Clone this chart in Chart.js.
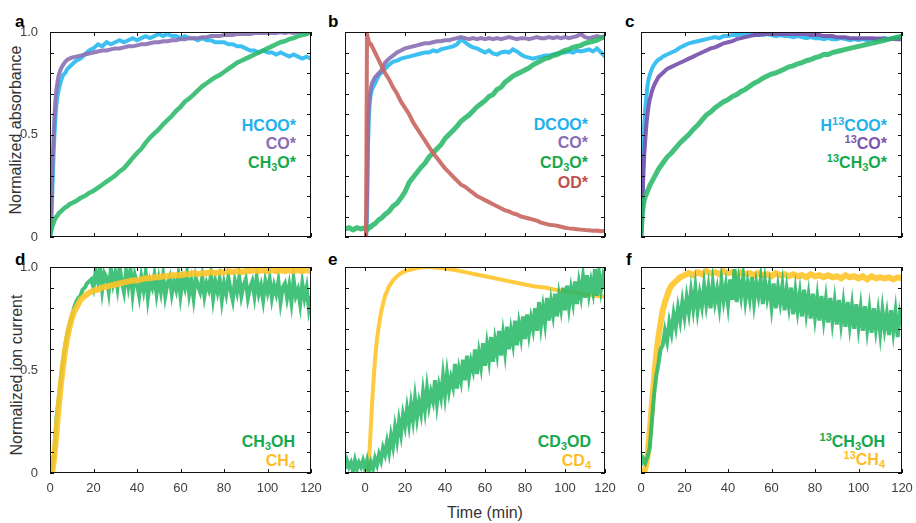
<!DOCTYPE html>
<html>
<head>
<meta charset="utf-8">
<script src="https://cdn.jsdelivr.net/npm/chart.js@4.4.1/dist/chart.umd.min.js"></script>
<style>
  body { margin: 0; background: #fff; }
  #fig { position: relative; width: 916px; height: 523px; overflow: hidden; font-family: 'Liberation Sans', Arial, sans-serif; }
  .lab { position: absolute; font-weight: bold; font-size: 16px; line-height: 16px; white-space: nowrap; text-align: right; }
  .lab .sb { font-size: 11px; line-height: 0; vertical-align: -3px; }
  .lab .sp { font-size: 11px; line-height: 0; vertical-align: 6px; }
  .let { position: absolute; font-weight: bold; font-size: 17px; line-height: 17px; color: #000; }
  .ttl { position: absolute; font-size: 16px; line-height: 16px; color: #333; text-align: center; white-space: nowrap; }
</style>
</head>
<body>
<div id="fig">
  <div class="let" style="left:15px;top:13px">a</div>
  <div class="let" style="left:328px;top:13px">b</div>
  <div class="let" style="left:625px;top:13px">c</div>
  <div class="let" style="left:15px;top:251px">d</div>
  <div class="let" style="left:328px;top:251px">e</div>
  <div class="let" style="left:626px;top:251px">f</div>

  <div class="ttl" style="left:-94px;top:122px;width:220px;transform:rotate(-90deg)">Normalized absorbance</div>
  <div class="ttl" style="left:-93px;top:367px;width:220px;transform:rotate(-90deg)">Normalized ion current</div>
  <div class="ttl" style="left:385px;top:505px;width:200px">Time (min)</div>

  <!-- a -->
  <div class="lab" style="right:620px;top:118px;color:#1fb1ec">HCOO*</div>
  <div class="lab" style="right:620px;top:136px;color:#8a6db1">CO*</div>
  <div class="lab" style="right:620px;top:155px;color:#16a84c">CH<span class="sb">3</span>O*</div>
  <!-- b -->
  <div class="lab" style="right:328px;top:117px;color:#1fb1ec">DCOO*</div>
  <div class="lab" style="right:328px;top:135px;color:#8a6db1">CO*</div>
  <div class="lab" style="right:328px;top:155px;color:#16a84c">CD<span class="sb">3</span>O*</div>
  <div class="lab" style="right:328px;top:175px;color:#c0504d">OD*</div>
  <!-- c -->
  <div class="lab" style="right:29px;top:118px;color:#1fb1ec">H<span class="sp">13</span>COO*</div>
  <div class="lab" style="right:29px;top:136px;color:#7c56ad"><span class="sp">13</span>CO*</div>
  <div class="lab" style="right:29px;top:155px;color:#16a84c"><span class="sp">13</span>CH<span class="sb">3</span>O*</div>
  <!-- d -->
  <div class="lab" style="right:621px;top:434px;color:#16a84c">CH<span class="sb">3</span>OH</div>
  <div class="lab" style="right:621px;top:453px;color:#fdbe2a">CH<span class="sb">4</span></div>
  <!-- e -->
  <div class="lab" style="right:325px;top:434px;color:#16a84c">CD<span class="sb">3</span>OD</div>
  <div class="lab" style="right:325px;top:453px;color:#fdbe2a">CD<span class="sb">4</span></div>
  <!-- f -->
  <div class="lab" style="right:31px;top:434px;color:#16a84c"><span class="sp">13</span>CH<span class="sb">3</span>OH</div>
  <div class="lab" style="right:31px;top:452px;color:#fdbe2a"><span class="sp">13</span>CH<span class="sb">4</span></div>
</div>

<script>
// time grids (min)
function grid(a, b, s) {
  const r = [];
  for (let t = a; t <= b + 1e-9; t += s) r.push(t);
  return r;
}
const tTop = [0,0.5,1,1.5,2,2.5,3,3.5,4,5,6,7,8,9,10].concat(grid(12, 120, 2));
const tB = [-10,-8,-6,-4,-2,0,0.5,1,1.5,2,2.5,3,3.5,4,5,6,7,8,9,10].concat(grid(12, 120, 2));
const tD = grid(0, 16, 1).concat(grid(18, 120, 2));
const tE = [-10,-8,-6,-4,-2,0,1,1.5,2,2.5,3,3.5,4,4.5,5,5.5,6,7,8,9,10].concat(grid(12, 32, 2), grid(35, 120, 5));
const tF = grid(0, 20, 1).concat(grid(22, 120, 2));
const tMin = grid(0, 120, 1);
const tMinE = grid(-10, 120, 1);

// axis ticks
const xTickMarks = [0, 20, 40, 60, 80, 100, 120];
const yTickMarks = [0, 0.1, 0.2, 0.3, 0.4, 0.5, 0.6, 0.7, 0.8, 0.9, 1];

// a: absorbance, H2 + CO2
const aHCOO = [0,0.05,0.2,0.36,0.49,0.58,0.65,0.69,0.72,0.76,0.79,0.80,0.82,0.83,0.84,
  0.86,0.87,0.89,0.91,0.92,0.94,0.93,0.95,0.94,0.95,0.96,0.95,0.96,0.97,0.96,0.97,0.98,0.97,0.98,0.99,
  0.98,0.99,0.98,0.98,0.97,0.98,0.97,0.97,0.96,0.97,0.96,0.96,0.95,0.95,0.95,0.94,0.94,0.93,0.93,0.92,
  0.91,0.91,0.90,0.91,0.90,0.90,0.89,0.90,0.89,0.88,0.89,0.88,0.87,0.88,0.87];
const aCO = [0,0.1,0.3,0.45,0.58,0.67,0.72,0.76,0.79,0.82,0.84,0.855,0.865,0.87,0.875,
  0.88,0.885,0.89,0.895,0.9,0.905,0.91,0.91,0.915,0.92,0.92,0.925,0.93,0.93,0.935,0.94,0.94,0.945,0.95,0.95,
  0.955,0.955,0.96,0.96,0.965,0.965,0.97,0.97,0.97,0.975,0.975,0.98,0.98,0.98,0.985,0.985,0.985,0.99,0.99,0.99,
  0.99,0.995,0.995,0.995,0.995,0.995,0.995,1,0.995,1,0.995,1,1,0.995,1];
const aCH3O = [0,0.03,0.05,0.065,0.08,0.09,0.1,0.105,0.115,0.125,0.135,0.145,0.15,0.16,0.165,
  0.175,0.19,0.2,0.215,0.225,0.24,0.255,0.27,0.285,0.3,0.32,0.335,0.36,0.385,0.41,0.43,0.46,0.485,0.505,0.525,
  0.55,0.57,0.59,0.615,0.635,0.66,0.675,0.695,0.715,0.735,0.75,0.765,0.78,0.79,0.805,0.82,0.835,0.85,0.86,0.87,
  0.88,0.89,0.9,0.91,0.92,0.93,0.94,0.95,0.955,0.965,0.97,0.98,0.985,0.99,1.0];

// b: absorbance, deuterated
const bDCOO = [-0.01,-0.015,-0.01,-0.02,-0.01,-0.01,-0.01,0.1,0.45,0.6,0.67,0.7,0.72,0.73,0.75,0.77,0.79,0.8,0.81,0.82,
  0.84,0.855,0.86,0.87,0.875,0.88,0.885,0.89,0.895,0.9,0.9,0.91,0.905,0.915,0.92,0.925,0.93,0.94,0.965,0.95,
  0.935,0.925,0.92,0.91,0.9,0.91,0.895,0.89,0.9,0.905,0.9,0.915,0.905,0.89,0.88,0.875,0.87,0.875,0.88,0.885,
  0.885,0.89,0.895,0.9,0.9,0.905,0.9,0.91,0.905,0.91,0.915,0.905,0.92,0.9,0.88];
const bCO = [-0.01,-0.01,-0.01,-0.01,-0.01,-0.01,-0.01,0.2,0.55,0.65,0.7,0.73,0.75,0.76,0.78,0.79,0.8,0.81,0.83,0.85,
  0.87,0.885,0.9,0.91,0.92,0.925,0.93,0.935,0.94,0.945,0.945,0.95,0.955,0.955,0.96,0.96,0.965,0.97,0.975,0.97,
  0.965,0.97,0.965,0.97,0.965,0.97,0.965,0.97,0.965,0.97,0.975,0.97,0.965,0.97,0.97,0.965,0.97,0.975,0.97,0.97,
  0.975,0.97,0.975,0.97,0.975,0.97,0.975,0.98,0.99,0.975,0.97,0.975,0.98,0.975,0.98];
const bCD3O = [0.04,0.045,0.035,0.045,0.04,0.045,0.04,0.045,0.04,0.045,0.05,0.05,0.055,0.06,0.065,0.075,0.085,0.09,0.1,0.11,
  0.125,0.15,0.165,0.19,0.22,0.265,0.29,0.315,0.34,0.36,0.39,0.41,0.43,0.45,0.48,0.5,0.52,0.54,0.565,0.58,
  0.595,0.615,0.635,0.65,0.665,0.685,0.695,0.72,0.73,0.755,0.77,0.785,0.795,0.805,0.815,0.825,0.84,0.85,0.86,0.87,
  0.875,0.885,0.89,0.9,0.91,0.915,0.925,0.93,0.935,0.945,0.95,0.955,0.96,0.97,0.975];
const bOD = [-0.01,-0.01,-0.01,-0.01,-0.01,-0.01,-0.01,0.99,0.97,0.95,0.94,0.94,0.93,0.92,0.9,0.88,0.86,0.84,0.82,0.8,
  0.77,0.73,0.7,0.66,0.63,0.6,0.56,0.53,0.5,0.47,0.44,0.41,0.385,0.36,0.335,0.315,0.295,0.275,0.255,0.245,
  0.23,0.215,0.2,0.19,0.18,0.17,0.16,0.15,0.14,0.13,0.125,0.115,0.11,0.1,0.095,0.09,0.085,0.08,0.07,0.065,
  0.06,0.058,0.055,0.05,0.045,0.042,0.04,0.038,0.036,0.034,0.033,0.03,0.032,0.028,0.03];

// c: absorbance, 13C
const cHCOO = [0,0.12,0.38,0.55,0.63,0.69,0.74,0.77,0.79,0.82,0.84,0.855,0.865,0.87,0.88,
  0.89,0.9,0.91,0.925,0.935,0.945,0.95,0.955,0.96,0.965,0.97,0.975,0.97,0.98,0.98,0.985,0.985,0.99,0.985,0.99,
  0.985,0.99,0.985,0.99,0.985,0.98,0.985,0.98,0.98,0.975,0.98,0.975,0.97,0.975,0.97,0.97,0.965,0.97,0.965,0.965,
  0.97,0.965,0.96,0.965,0.96,0.965,0.96,0.965,0.96,0.965,0.97,0.965,0.97,0.975,0.975];
const cCO = [0,0.1,0.28,0.4,0.48,0.55,0.6,0.64,0.67,0.71,0.74,0.76,0.78,0.79,0.8,
  0.82,0.83,0.84,0.85,0.86,0.87,0.88,0.89,0.9,0.91,0.92,0.925,0.935,0.945,0.95,0.955,0.965,0.97,0.975,0.98,
  0.985,0.985,0.99,0.99,0.99,0.99,0.99,0.99,0.99,0.99,0.99,0.99,0.99,0.985,0.985,0.985,0.98,0.98,0.98,0.975,
  0.975,0.975,0.97,0.97,0.97,0.97,0.97,0.97,0.968,0.968,0.967,0.966,0.966,0.965,0.965];
const cCH3O = [0,0.1,0.15,0.18,0.2,0.21,0.225,0.235,0.25,0.27,0.29,0.31,0.33,0.345,0.36,
  0.39,0.41,0.435,0.46,0.48,0.5,0.525,0.545,0.57,0.595,0.61,0.63,0.645,0.66,0.67,0.685,0.695,0.71,0.72,0.735,
  0.75,0.76,0.775,0.785,0.795,0.8,0.81,0.82,0.83,0.835,0.845,0.85,0.86,0.865,0.875,0.88,0.89,0.89,0.9,0.905,
  0.91,0.915,0.92,0.925,0.93,0.935,0.94,0.945,0.95,0.955,0.96,0.965,0.97,0.975,0.98];

// d: ion current, H2 + CO2
const dCH4 = [0,0,0.08,0.2,0.32,0.43,0.52,0.6,0.66,0.71,0.75,0.78,0.8,0.82,0.84,0.85,0.86,
  0.875,0.885,0.89,0.9,0.905,0.91,0.915,0.92,0.925,0.93,0.935,0.935,0.94,0.945,0.945,0.95,0.95,0.955,0.955,0.96,
  0.96,0.96,0.965,0.965,0.97,0.965,0.97,0.97,0.975,0.97,0.975,0.975,0.98,0.975,0.98,0.975,0.98,0.98,0.985,0.98,
  0.985,0.98,0.985,0.98,0.985,0.98,0.985,0.98,0.985,0.98,0.985,0.98];
const dCH3OH = [0.0,0.02,0.1,0.27,0.36,0.46,0.55,0.62,0.68,0.72,
  0.76,0.8,0.83,0.85,0.86,0.89,0.9,0.92,0.93,0.94,
  0.9,0.98,0.93,1.0,0.89,0.97,0.95,0.88,0.99,0.92,
  0.97,0.9,1.0,0.93,0.88,0.98,0.91,0.99,0.87,0.96,
  0.92,0.86,0.95,0.89,0.97,0.85,0.93,0.9,0.96,0.87,
  0.94,0.88,0.96,0.86,0.92,0.95,0.87,0.93,0.89,0.96,
  0.86,0.94,0.9,0.97,0.87,0.93,0.85,0.95,0.91,0.88,
  0.95,0.86,0.92,0.89,0.96,0.85,0.93,0.88,0.94,0.84,
  0.92,0.87,0.95,0.89,0.84,0.93,0.88,0.95,0.86,0.91,
  0.94,0.85,0.9,0.93,0.86,0.95,0.87,0.91,0.84,0.93,
  0.88,0.94,0.85,0.91,0.87,0.93,0.83,0.9,0.92,0.85,
  0.91,0.83,0.94,0.86,0.89,0.82,0.92,0.85,0.9,0.8,
  0.86];

// e: ion current, deuterated
const eCD4 = [-0.01,-0.01,-0.01,-0.01,-0.01,-0.01,-0.01,0,0.06,0.15,0.24,0.33,0.41,0.48,0.55,0.6,0.65,
  0.72,0.78,0.82,0.86,0.905,0.935,0.955,0.97,0.98,0.985,0.99,0.995,0.998,1.0,1.0,
  0.998,0.993,0.985,0.975,0.965,0.955,0.945,0.935,0.925,0.915,0.905,0.9,0.89,0.882,0.875,0.868,0.86,0.855];
const eCD3OD = [0.02,0.06,0.03,0.05,0.01,0.06,0.02,0.05,0.03,0.06,
  0.02,0.06,0.01,0.05,0.02,0.07,0.04,0.09,0.06,0.12,
  0.09,0.15,0.1,0.18,0.13,0.22,0.16,0.25,0.19,0.28,
  0.23,0.31,0.24,0.33,0.26,0.36,0.27,0.34,0.29,0.39,
  0.31,0.41,0.33,0.39,0.35,0.45,0.34,0.42,0.37,0.47,
  0.38,0.48,0.4,0.46,0.42,0.53,0.41,0.5,0.45,0.55,
  0.45,0.57,0.47,0.54,0.5,0.6,0.48,0.58,0.52,0.63,
  0.52,0.62,0.55,0.66,0.54,0.64,0.58,0.69,0.57,0.67,
  0.59,0.71,0.6,0.69,0.63,0.74,0.62,0.72,0.66,0.76,
  0.65,0.77,0.68,0.75,0.7,0.8,0.69,0.83,0.72,0.8,
  0.73,0.85,0.74,0.83,0.77,0.87,0.76,0.86,0.8,0.9,
  0.79,0.91,0.81,0.89,0.83,0.93,0.82,0.92,0.86,0.95,
  0.85,0.96,0.87,0.93,0.88,0.99,0.86,0.97,0.89,0.95,
  0.9];

// f: ion current, 13C
const f13CH4 = [0,0,0.02,0.08,0.2,0.33,0.46,0.57,0.66,0.73,0.79,0.83,0.86,0.89,0.91,0.92,0.93,0.94,0.95,0.955,0.96,
  0.97,0.96,0.975,0.965,0.98,0.97,0.975,0.965,0.98,0.97,0.975,0.96,0.975,0.965,0.97,0.96,0.97,0.96,0.965,0.955,
  0.97,0.96,0.965,0.955,0.965,0.955,0.96,0.95,0.965,0.955,0.96,0.95,0.96,0.95,0.955,0.945,0.96,0.95,0.955,0.945,
  0.955,0.94,0.955,0.945,0.95,0.945,0.95,0.94,0.95,0.945];
const f13CH3OH = [0.04,0.07,0.05,0.08,0.12,0.25,0.38,0.47,0.53,0.6,
  0.62,0.69,0.64,0.73,0.68,0.77,0.71,0.8,0.74,0.83,
  0.76,0.85,0.78,0.88,0.8,0.9,0.79,0.87,0.81,0.91,
  0.82,0.9,0.8,0.92,0.83,0.89,0.81,0.93,0.84,0.91,
  0.82,0.94,0.84,0.99,0.83,0.93,0.86,0.95,0.84,0.92,
  0.85,0.95,0.83,0.92,0.86,0.94,0.82,0.93,0.85,0.91,
  0.81,0.92,0.8,0.9,0.83,0.91,0.79,0.89,0.81,0.9,
  0.77,0.88,0.79,0.87,0.76,0.89,0.78,0.86,0.75,0.87,
  0.76,0.85,0.74,0.86,0.75,0.84,0.73,0.85,0.74,0.83,
  0.72,0.84,0.73,0.82,0.71,0.83,0.72,0.81,0.7,0.82,
  0.71,0.8,0.69,0.81,0.7,0.79,0.68,0.8,0.7,0.78,
  0.68,0.79,0.7,0.77,0.67,0.79,0.69,0.78,0.66,0.77,
  0.72];

const COL = {
  cyan: 'rgba(45,187,240,0.92)',
  purple: 'rgba(140,115,180,0.92)',
  purpleDark: 'rgba(122,82,172,0.92)',
  green: 'rgba(42,184,104,0.88)',
  red: 'rgba(202,104,98,0.92)',
  yellow: 'rgba(255,196,40,0.9)'
};
const tickFont = { family: "'Liberation Sans', Arial, sans-serif", size: 13 };

// frame and inward ticks on all four sides
const frameTicks = {
  id: 'frameTicks',
  afterDatasetsDraw(chart) {
    const { ctx, chartArea: a, scales: { x, y } } = chart;
    ctx.save();
    ctx.strokeStyle = '#111';
    ctx.lineWidth = 1;
    ctx.strokeRect(a.left + 0.5, a.top + 0.5, a.right - a.left - 1, a.bottom - a.top - 1);
    ctx.beginPath();
    yTickMarks.forEach(v => {
      const py = Math.round(y.getPixelForValue(v)) + 0.5;
      ctx.moveTo(a.left, py); ctx.lineTo(a.left + 4, py);
      ctx.moveTo(a.right, py); ctx.lineTo(a.right - 4, py);
    });
    xTickMarks.forEach(v => {
      const px = Math.round(x.getPixelForValue(v)) + 0.5;
      ctx.moveTo(px, a.bottom); ctx.lineTo(px, a.bottom - 4);
      ctx.moveTo(px, a.top); ctx.lineTo(px, a.top + 4);
    });
    ctx.stroke();
    ctx.restore();
  }
};

function makePanel(box, xMin, series, showX, showY) {
  const padL = 40, padT = 12, padR = 16, padB = 30;
  const cv = document.createElement('canvas');
  cv.width = box.w + padL + padR;
  cv.height = box.h + padT + padB;
  cv.style.cssText = 'position:absolute;left:' + (box.l - padL) + 'px;top:' + (box.t - padT) + 'px';
  document.getElementById('fig').appendChild(cv);

  new Chart(cv, {
    type: 'line',
    data: {
      datasets: series.map((s, i) => ({
        data: s.x.map((t, k) => ({ x: t, y: s.y[k] })),
        borderColor: s.color,
        borderWidth: s.width,
        pointRadius: 0,
        tension: 0,
        fill: false,
        order: series.length - i // later series on top
      }))
    },
    options: {
      responsive: false,
      animation: false,
      devicePixelRatio: 1,
      events: [],
      layout: { padding: { top: padT, right: padR, left: 0, bottom: 0 } },
      plugins: { legend: { display: false }, tooltip: { enabled: false } },
      scales: {
        x: {
          type: 'linear', min: xMin, max: 120,
          grid: { display: false }, border: { display: false },
          ticks: { display: showX, stepSize: 20, includeBounds: false, autoSkip: false, maxRotation: 0, padding: 0, color: '#404040', font: tickFont },
          afterFit: s => { s.height = padB; }
        },
        y: {
          min: 0, max: 1,
          grid: { display: false }, border: { display: false },
          ticks: { display: showY, stepSize: 0.5, padding: 4, color: '#404040', font: tickFont },
          afterFit: s => { s.width = padL; }
        }
      }
    },
    plugins: [frameTicks]
  });
}

makePanel({ l: 50, t: 32, w: 261, h: 205 }, 0, [
  { x: tTop, y: aHCOO, color: COL.cyan, width: 4 },
  { x: tTop, y: aCO, color: COL.purple, width: 4 },
  { x: tTop, y: aCH3O, color: COL.green, width: 4.5 }
], false, true);

makePanel({ l: 345, t: 32, w: 260, h: 205 }, -10, [
  { x: tB, y: bDCOO, color: COL.cyan, width: 4 },
  { x: tB, y: bCO, color: COL.purple, width: 4 },
  { x: tB, y: bCD3O, color: COL.green, width: 5 },
  { x: tB, y: bOD, color: COL.red, width: 4 }
], false, false);

makePanel({ l: 641, t: 32, w: 261, h: 205 }, 0, [
  { x: tTop, y: cHCOO, color: COL.cyan, width: 4 },
  { x: tTop, y: cCO, color: COL.purpleDark, width: 4 },
  { x: tTop, y: cCH3O, color: COL.green, width: 5 }
], false, false);

makePanel({ l: 50, t: 267, w: 261, h: 206 }, 0, [
  { x: tMin, y: dCH3OH, color: COL.green, width: 4 },
  { x: tD, y: dCH4, color: COL.yellow, width: 6 }
], true, true);

makePanel({ l: 345, t: 267, w: 260, h: 206 }, -10, [
  { x: tE, y: eCD4, color: COL.yellow, width: 4 },
  { x: tMinE, y: eCD3OD, color: COL.green, width: 4 }
], true, false);

makePanel({ l: 641, t: 267, w: 261, h: 206 }, 0, [
  { x: tF, y: f13CH4, color: COL.yellow, width: 6 },
  { x: tMin, y: f13CH3OH, color: COL.green, width: 4 }
], true, false);
</script>
</body>
</html>
